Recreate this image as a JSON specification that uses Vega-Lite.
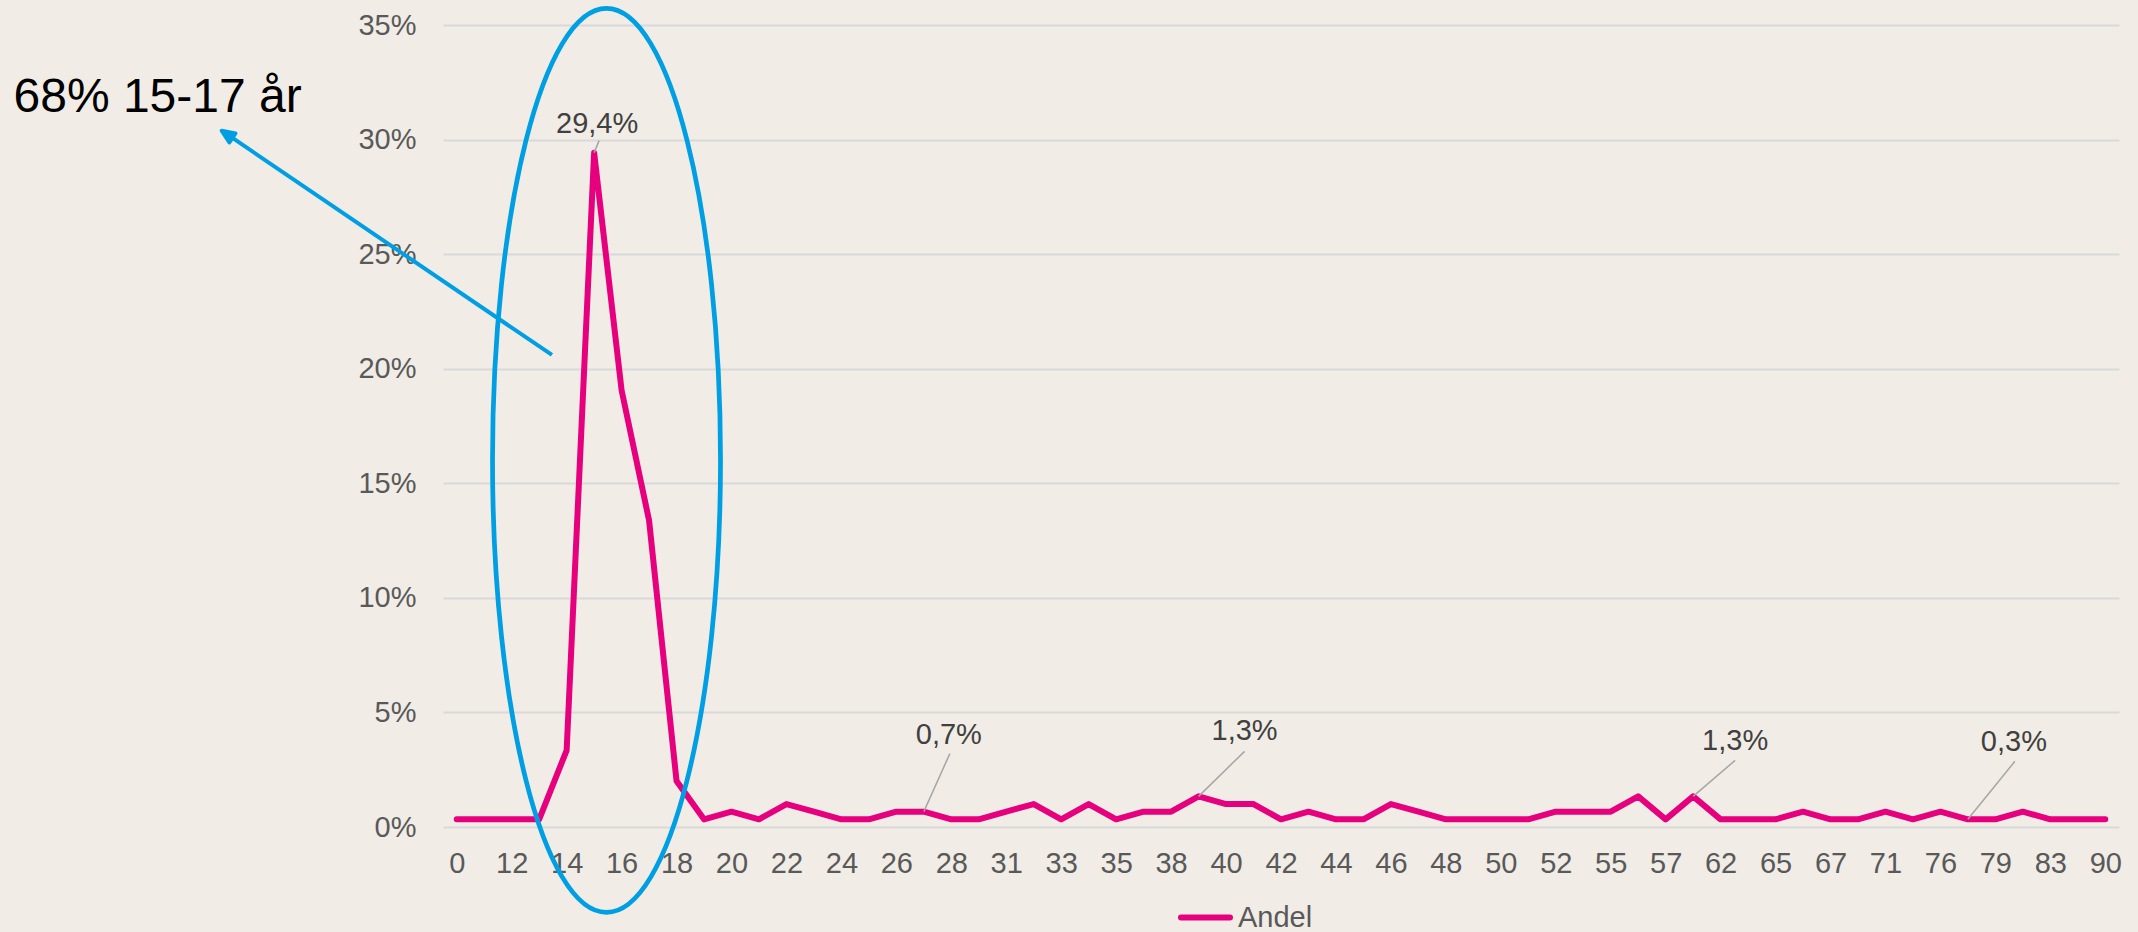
{
  "$schema": "https://vega.github.io/schema/vega-lite/v6.json",
  "width": 1676,
  "height": 802,
  "autosize": {"type": "none"},
  "padding": {"left": 443, "top": 25, "right": 19, "bottom": 105},
  "background": "#F1EDE6",
  "config": {"view": {"stroke": null}, "font": "Liberation Sans"},
  "datasets": {
    "andel": [
      {"age": "0", "pct": 0.00334, "serie": "Andel"},
      {"age": "10", "pct": 0.00334, "serie": "Andel"},
      {"age": "12", "pct": 0.00334, "serie": "Andel"},
      {"age": "13", "pct": 0.00334, "serie": "Andel"},
      {"age": "14", "pct": 0.03344, "serie": "Andel"},
      {"age": "15", "pct": 0.2943, "serie": "Andel"},
      {"age": "16", "pct": 0.1906, "serie": "Andel"},
      {"age": "17", "pct": 0.1338, "serie": "Andel"},
      {"age": "18", "pct": 0.02007, "serie": "Andel"},
      {"age": "19", "pct": 0.00334, "serie": "Andel"},
      {"age": "20", "pct": 0.00669, "serie": "Andel"},
      {"age": "21", "pct": 0.00334, "serie": "Andel"},
      {"age": "22", "pct": 0.01003, "serie": "Andel"},
      {"age": "23", "pct": 0.00669, "serie": "Andel"},
      {"age": "24", "pct": 0.00334, "serie": "Andel"},
      {"age": "25", "pct": 0.00334, "serie": "Andel"},
      {"age": "26", "pct": 0.00669, "serie": "Andel"},
      {"age": "27", "pct": 0.00669, "serie": "Andel"},
      {"age": "28", "pct": 0.00334, "serie": "Andel"},
      {"age": "30", "pct": 0.00334, "serie": "Andel"},
      {"age": "31", "pct": 0.00669, "serie": "Andel"},
      {"age": "32", "pct": 0.01003, "serie": "Andel"},
      {"age": "33", "pct": 0.00334, "serie": "Andel"},
      {"age": "34", "pct": 0.01003, "serie": "Andel"},
      {"age": "35", "pct": 0.00334, "serie": "Andel"},
      {"age": "36", "pct": 0.00669, "serie": "Andel"},
      {"age": "38", "pct": 0.00669, "serie": "Andel"},
      {"age": "39", "pct": 0.01338, "serie": "Andel"},
      {"age": "40", "pct": 0.01003, "serie": "Andel"},
      {"age": "41", "pct": 0.01003, "serie": "Andel"},
      {"age": "42", "pct": 0.00334, "serie": "Andel"},
      {"age": "43", "pct": 0.00669, "serie": "Andel"},
      {"age": "44", "pct": 0.00334, "serie": "Andel"},
      {"age": "45", "pct": 0.00334, "serie": "Andel"},
      {"age": "46", "pct": 0.01003, "serie": "Andel"},
      {"age": "47", "pct": 0.00669, "serie": "Andel"},
      {"age": "48", "pct": 0.00334, "serie": "Andel"},
      {"age": "49", "pct": 0.00334, "serie": "Andel"},
      {"age": "50", "pct": 0.00334, "serie": "Andel"},
      {"age": "51", "pct": 0.00334, "serie": "Andel"},
      {"age": "52", "pct": 0.00669, "serie": "Andel"},
      {"age": "54", "pct": 0.00669, "serie": "Andel"},
      {"age": "55", "pct": 0.00669, "serie": "Andel"},
      {"age": "56", "pct": 0.01338, "serie": "Andel"},
      {"age": "57", "pct": 0.00334, "serie": "Andel"},
      {"age": "60", "pct": 0.01338, "serie": "Andel"},
      {"age": "62", "pct": 0.00334, "serie": "Andel"},
      {"age": "64", "pct": 0.00334, "serie": "Andel"},
      {"age": "65", "pct": 0.00334, "serie": "Andel"},
      {"age": "66", "pct": 0.00669, "serie": "Andel"},
      {"age": "67", "pct": 0.00334, "serie": "Andel"},
      {"age": "69", "pct": 0.00334, "serie": "Andel"},
      {"age": "71", "pct": 0.00669, "serie": "Andel"},
      {"age": "73", "pct": 0.00334, "serie": "Andel"},
      {"age": "76", "pct": 0.00669, "serie": "Andel"},
      {"age": "78", "pct": 0.00334, "serie": "Andel"},
      {"age": "79", "pct": 0.00334, "serie": "Andel"},
      {"age": "81", "pct": 0.00669, "serie": "Andel"},
      {"age": "83", "pct": 0.00334, "serie": "Andel"},
      {"age": "86", "pct": 0.00334, "serie": "Andel"},
      {"age": "90", "pct": 0.00334, "serie": "Andel"}
    ],
    "ellipse": [{"age": "15", "pct": 0.16}],
    "arrow": [{"age": "13", "pct": 0.206}]
  },
  "encoding": {
    "x": {
      "field": "age",
      "type": "ordinal",
      "sort": null,
      "scale": {
        "type": "point",
        "padding": 0.5,
        "domain": ["0","10","12","13","14","15","16","17","18","19","20","21","22","23","24","25","26","27","28","30","31","32","33","34","35","36","38","39","40","41","42","43","44","45","46","47","48","49","50","51","52","54","55","56","57","60","62","64","65","66","67","69","71","73","76","78","79","81","83","86","90"]
      },
      "axis": {
        "values": ["0","12","14","16","18","20","22","24","26","28","31","33","35","38","40","42","44","46","48","50","52","55","57","62","65","67","71","76","79","83","90"],
        "labelAngle": 0,
        "grid": false,
        "domain": false,
        "ticks": false,
        "tickSize": 0,
        "labelPadding": 22,
        "labelFontSize": 29,
        "labelColor": "#595959",
        "labelFont": "Liberation Sans",
        "title": null
      }
    },
    "y": {
      "field": "pct",
      "type": "quantitative",
      "scale": {"domain": [0, 0.35], "nice": false, "zero": true},
      "axis": {
        "values": [0, 0.05, 0.1, 0.15, 0.2, 0.25, 0.3, 0.35],
        "format": ".0%",
        "grid": true,
        "gridColor": "#D9D9D9",
        "gridWidth": 2,
        "domain": false,
        "ticks": false,
        "tickSize": 0,
        "labelPadding": 27,
        "labelFontSize": 29,
        "labelColor": "#595959",
        "labelFont": "Liberation Sans",
        "title": "68% 15-17 år",
        "titleAngle": 0,
        "titleX": -430,
        "titleY": 86,
        "titleAlign": "left",
        "titleBaseline": "alphabetic",
        "titleFontSize": 48,
        "titleFontWeight": "normal",
        "titleColor": "#000000",
        "titleFont": "Liberation Sans"
      }
    }
  },
  "layer": [
    {
      "data": {"name": "andel"},
      "mark": {"type": "line", "strokeWidth": 6, "strokeCap": "round", "strokeJoin": "round"},
      "encoding": {
        "color": {
          "field": "serie",
          "type": "nominal",
          "scale": {"domain": ["Andel"], "range": ["#E6007E"]},
          "legend": {
            "title": null,
            "orient": "none",
            "legendX": 735,
            "legendY": 865,
            "padding": 0,
            "symbolType": "stroke",
            "symbolSize": 2401,
            "symbolStrokeWidth": 6,
            "labelFontSize": 29,
            "labelColor": "#595959",
            "labelFont": "Liberation Sans",
            "labelOffset": 5,
            "encode": {"symbols": {"update": {"strokeCap": {"value": "round"}}}}
          }
        }
      }
    },
    {
      "data": {"name": "andel"},
      "transform": [
        {"filter": "datum.age === '15'"},
        {"calculate": "replace(format(datum.pct, '.1%'), '.', ',')", "as": "lab"}
      ],
      "layer": [
        {"mark": {"type": "rule", "color": "#A6A6A6", "strokeWidth": 1.5, "x2Offset": 5, "y2Offset": -12},
         "encoding": {"x2": {"field": "age"}, "y2": {"field": "pct"}}},
        {"mark": {"type": "text", "dx": 3, "dy": -20, "fontSize": 29, "color": "#404040", "align": "center", "baseline": "alphabetic", "font": "Liberation Sans"},
         "encoding": {"text": {"field": "lab"}}}
      ]
    },
    {
      "data": {"name": "andel"},
      "transform": [
        {"filter": "datum.age === '27'"},
        {"calculate": "replace(format(datum.pct, '.1%'), '.', ',')", "as": "lab"}
      ],
      "layer": [
        {"mark": {"type": "rule", "color": "#A6A6A6", "strokeWidth": 1.5, "x2Offset": 26, "y2Offset": -58},
         "encoding": {"x2": {"field": "age"}, "y2": {"field": "pct"}}},
        {"mark": {"type": "text", "dx": 25, "dy": -68, "fontSize": 29, "color": "#404040", "align": "center", "baseline": "alphabetic", "font": "Liberation Sans"},
         "encoding": {"text": {"field": "lab"}}}
      ]
    },
    {
      "data": {"name": "andel"},
      "transform": [
        {"filter": "datum.age === '39'"},
        {"calculate": "replace(format(datum.pct, '.1%'), '.', ',')", "as": "lab"}
      ],
      "layer": [
        {"mark": {"type": "rule", "color": "#A6A6A6", "strokeWidth": 1.5, "x2Offset": 46, "y2Offset": -45},
         "encoding": {"x2": {"field": "age"}, "y2": {"field": "pct"}}},
        {"mark": {"type": "text", "dx": 46, "dy": -56, "fontSize": 29, "color": "#404040", "align": "center", "baseline": "alphabetic", "font": "Liberation Sans"},
         "encoding": {"text": {"field": "lab"}}}
      ]
    },
    {
      "data": {"name": "andel"},
      "transform": [
        {"filter": "datum.age === '60'"},
        {"calculate": "replace(format(datum.pct, '.1%'), '.', ',')", "as": "lab"}
      ],
      "layer": [
        {"mark": {"type": "rule", "color": "#A6A6A6", "strokeWidth": 1.5, "x2Offset": 42, "y2Offset": -36},
         "encoding": {"x2": {"field": "age"}, "y2": {"field": "pct"}}},
        {"mark": {"type": "text", "dx": 42, "dy": -46, "fontSize": 29, "color": "#404040", "align": "center", "baseline": "alphabetic", "font": "Liberation Sans"},
         "encoding": {"text": {"field": "lab"}}}
      ]
    },
    {
      "data": {"name": "andel"},
      "transform": [
        {"filter": "datum.age === '78'"},
        {"calculate": "replace(format(datum.pct, '.1%'), '.', ',')", "as": "lab"}
      ],
      "layer": [
        {"mark": {"type": "rule", "color": "#A6A6A6", "strokeWidth": 1.5, "x2Offset": 47, "y2Offset": -58},
         "encoding": {"x2": {"field": "age"}, "y2": {"field": "pct"}}},
        {"mark": {"type": "text", "dx": 46, "dy": -68, "fontSize": 29, "color": "#404040", "align": "center", "baseline": "alphabetic", "font": "Liberation Sans"},
         "encoding": {"text": {"field": "lab"}}}
      ]
    },
    {
      "data": {"name": "ellipse"},
      "mark": {
        "type": "point",
        "shape": "M 12.4 -452 A 114 452 0 1 1 12.4 452 A 114 452 0 1 1 12.4 -452 Z",
        "size": 4,
        "filled": false,
        "stroke": "#009FE3",
        "strokeWidth": 4.75,
        "opacity": 1
      }
    },
    {
      "data": {"name": "arrow"},
      "mark": {
        "type": "point",
        "shape": "M 12.8 0 L -306.7 -217 M -317.5 -224.3 L -309.8 -212.5 L -303.7 -221.6 Z",
        "size": 4,
        "filled": true,
        "fill": "#009FE3",
        "stroke": "#009FE3",
        "strokeWidth": 4,
        "strokeJoin": "round",
        "opacity": 1
      }
    }
  ]
}
